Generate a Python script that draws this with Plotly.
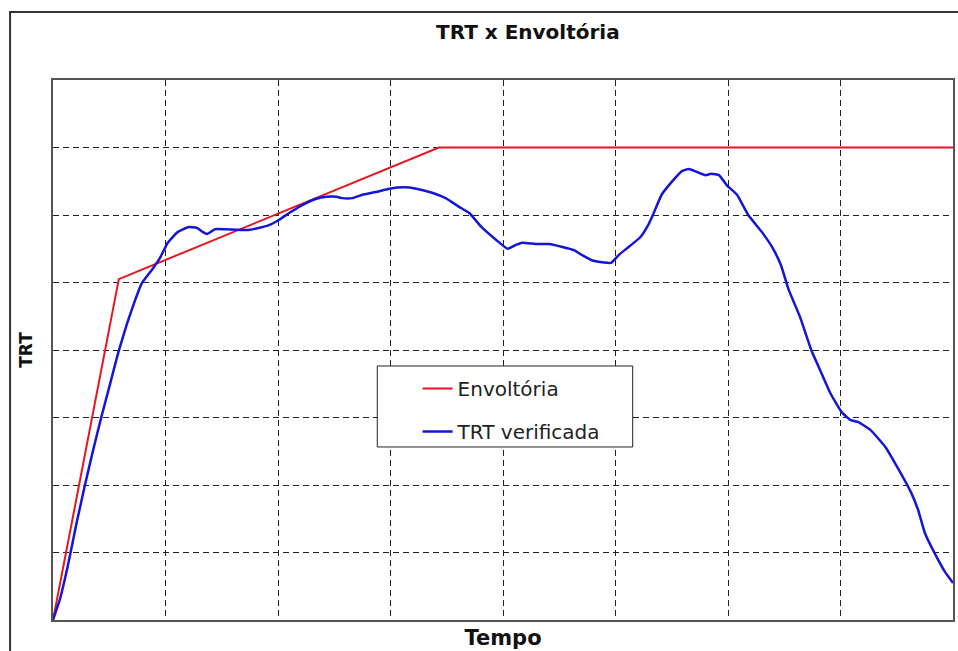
import plotly.graph_objects as go

# Envelope (Envoltória) - grid units (8 x 8 divisions)
env_x = [0.0, 0.585, 3.43, 8.0]
env_y = [0.0, 5.05, 7.0, 7.0]

# Measured TRT (TRT verificada)
trt_x = [0.0, 0.06, 0.13, 0.21, 0.28, 0.35, 0.43, 0.50, 0.58, 0.66, 0.73, 0.79, 0.88, 0.95,
         1.02, 1.11, 1.20, 1.28, 1.33, 1.37, 1.44, 1.53, 1.75, 1.92, 2.01, 2.10, 2.22, 2.34,
         2.43, 2.52, 2.57, 2.66, 2.75, 2.87, 2.99, 3.12, 3.23, 3.37, 3.49, 3.61, 3.70, 3.81,
         3.94, 4.04, 4.12, 4.17, 4.29, 4.41, 4.52, 4.63, 4.70, 4.79, 4.88, 4.96, 5.03, 5.12,
         5.22, 5.29, 5.34, 5.41, 5.50, 5.59, 5.65, 5.72, 5.80, 5.85, 5.92, 5.99, 6.08, 6.18,
         6.30, 6.39, 6.47, 6.54, 6.64, 6.74, 6.83, 6.91, 7.01, 7.09, 7.16, 7.27, 7.40, 7.51,
         7.63, 7.69, 7.75, 7.84, 7.93, 8.00]
trt_y = [0.0, 0.30, 0.79, 1.44, 1.97, 2.47, 3.01, 3.45, 3.96, 4.40, 4.74, 4.99, 5.19, 5.36,
         5.59, 5.75, 5.82, 5.81, 5.75, 5.72, 5.79, 5.79, 5.78, 5.85, 5.93, 6.03, 6.15, 6.24,
         6.27, 6.27, 6.25, 6.25, 6.30, 6.34, 6.39, 6.41, 6.39, 6.33, 6.25, 6.12, 6.03, 5.82,
         5.63, 5.50, 5.56, 5.59, 5.57, 5.57, 5.53, 5.48, 5.41, 5.33, 5.30, 5.29, 5.41, 5.53,
         5.67, 5.85, 6.03, 6.30, 6.49, 6.65, 6.68, 6.64, 6.59, 6.61, 6.59, 6.44, 6.30, 6.00,
         5.75, 5.53, 5.26, 4.89, 4.49, 4.00, 3.66, 3.36, 3.08, 2.96, 2.93, 2.81, 2.56, 2.25,
         1.88, 1.63, 1.29, 0.98, 0.71, 0.55]

title_text = "TRT x Envoltória"
x_title = "Tempo"
y_title = "TRT"
names = ["Envoltória", "TRT verificada"]

fig = go.Figure()
fig.add_trace(go.Scatter(x=env_x, y=env_y, mode="lines", name=names[0],
                         line=dict(color="#e8151f", width=2), legendgroup="a"))
fig.add_trace(go.Scatter(x=trt_x, y=trt_y, mode="lines", name=names[1],
                         line=dict(color="#1515d8", width=2.5, shape="spline", smoothing=0.4),
                         legendgroup="b"))

axis_common = dict(range=[0, 8], dtick=1, tick0=0, showticklabels=False, ticks="",
                   showgrid=True, gridcolor="#222222", gridwidth=1, griddash="6px,4px",
                   showline=True, linecolor="#555555", linewidth=1.5, mirror=True,
                   zeroline=False, fixedrange=True)

fig.update_layout(
    width=958, height=651, autosize=False,
    margin=dict(l=53, r=3, t=80, b=31),
    paper_bgcolor="white", plot_bgcolor="white",
    font=dict(family="DejaVu Sans, Liberation Sans, Arial", color="#111111"),
    title=dict(text="<b>" + title_text + "</b>", x=0.551, xanchor="center",
               y=0.951, yanchor="middle", font=dict(size=20, color="#111111")),
    xaxis=dict(axis_common, title=dict(text="<b>" + x_title + "</b>", standoff=10,
                                       font=dict(size=21, color="#111111"))),
    yaxis=dict(axis_common, title=dict(text="<b>" + y_title + "</b>", standoff=14,
                                       font=dict(size=17, color="#111111"))),
    legend=dict(x=0.4051, y=0.4648, xanchor="left", yanchor="top",
                bgcolor="rgba(0,0,0,0)", borderwidth=0,
                font=dict(size=20, color="#222222"), tracegroupgap=14,
                itemwidth=30),
    showlegend=True,
)

# legend frame (box behind the legend entries)
fig.add_shape(type="rect", xref="paper", yref="paper",
              x0=0.3603, x1=0.6441, y0=0.3204, y1=0.4704,
              line=dict(color="#222222", width=1), fillcolor="white", layer="above")

# outer figure frame
fig.add_shape(type="rect", xref="paper", yref="paper",
              x0=-0.0477, x1=1.2, y0=-0.2, y1=1.126,
              line=dict(color="#333333", width=2), fillcolor="rgba(0,0,0,0)", layer="below")

fig.write_html("out.html", config={"displayModeBar": False},
               post_script="document.body.style.margin='0';document.body.style.overflow='hidden';")
